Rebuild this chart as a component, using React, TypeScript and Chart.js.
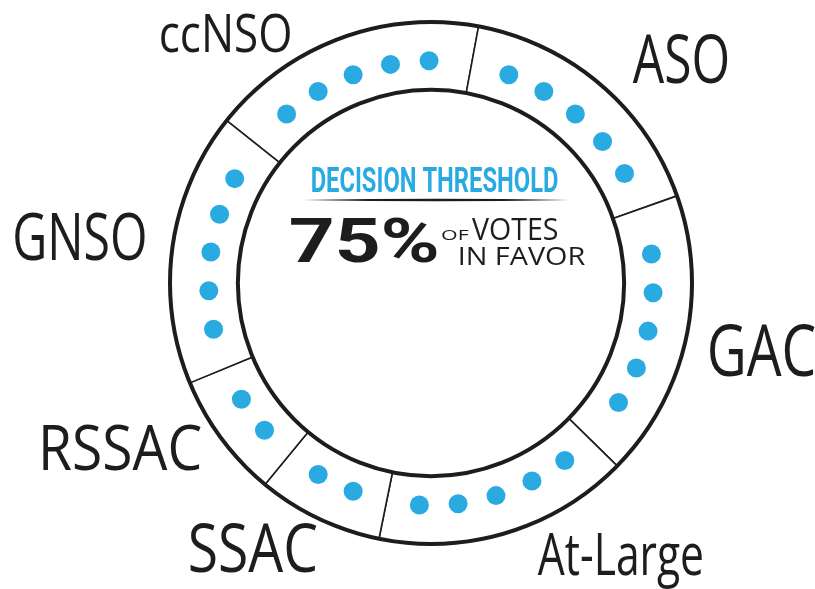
import { useEffect, useRef } from 'react';
import { Chart, DoughnutController, ArcElement } from 'chart.js';

Chart.register(DoughnutController, ArcElement);

// ---- data ----
const categories = ['ccNSO', 'ASO', 'GAC', 'At-Large', 'SSAC', 'RSSAC', 'GNSO'];
const votes = [5, 5, 5, 5, 2, 2, 5];
const segmentShare = [62, 60, 64, 57, 28, 28, 61];
const thresholdTitle = 'DECISION THRESHOLD';
const thresholdValue = '75%';
const thresholdWordsTop = ['OF', 'VOTES'];
const thresholdWordsBottom = 'IN FAVOR';

// ---- layout / style ----
const BLUE = '#29abe2';
const INK = '#1d1d1b';
const ROTATION = -51.5;
// label placement: angle (deg clockwise from top), distance from centre, cap height, ink width
const labelLayout = [
  { deg: -39.4, dist: 324, capH: 39, w: 130 },
  { deg: 47.9, dist: 336, capH: 50, w: 95 },
  { deg: 101.4, dist: 338, capH: 52, w: 105 },
  { deg: 145.1, dist: 330, capH: 43, w: 164 },
  { deg: 213.9, dist: 318, capH: 50, w: 127 },
  { deg: 242.0, dist: 350, capH: 45, w: 157 },
  { deg: 277.6, dist: 354, capH: 48, w: 130 },
];
const DOT_STEP_DEG = 10;
const DOT_R = 9.5;

function drawInk(
  ctx: CanvasRenderingContext2D,
  text: string,
  left: number,
  baseline: number,
  capH: number,
  width: number,
  font: string,
  color: string
) {
  ctx.save();
  ctx.font = font.replace('SIZE', '100px');
  const capRatio = ctx.measureText('H').actualBoundingBoxAscent / 100 || 0.72;
  const size = capH / capRatio;
  ctx.font = font.replace('SIZE', size.toFixed(2) + 'px');
  ctx.textAlign = 'left';
  ctx.textBaseline = 'alphabetic';
  const m = ctx.measureText(text);
  const L = m.actualBoundingBoxLeft;
  const inkW = L + m.actualBoundingBoxRight;
  const sx = width / inkW;
  ctx.translate(left, baseline);
  ctx.scale(sx, 1);
  ctx.fillStyle = color;
  ctx.fillText(text, L, 0);
  ctx.restore();
}

const decorPlugin = {
  id: 'decor',
  afterDatasetsDraw(chart: any) {
    const ctx: CanvasRenderingContext2D = chart.ctx;
    const meta = chart.getDatasetMeta(0);
    const first = meta.data[0];
    if (!first) return;
    const { x: cx, y: cy, innerRadius, outerRadius } = first.getProps(
      ['x', 'y', 'innerRadius', 'outerRadius'],
      true
    );

    // thick outer and inner rings
    ctx.save();
    ctx.strokeStyle = INK;
    ctx.lineWidth = 4;
    ctx.beginPath();
    ctx.arc(cx, cy, outerRadius, 0, Math.PI * 2);
    ctx.stroke();
    ctx.lineWidth = 4;
    ctx.beginPath();
    ctx.arc(cx, cy, innerRadius, 0, Math.PI * 2);
    ctx.stroke();
    ctx.restore();

    // vote dots
    const step = (DOT_STEP_DEG * Math.PI) / 180;
    const dotRadius = innerRadius + 0.43 * (outerRadius - innerRadius);
    ctx.save();
    ctx.fillStyle = BLUE;
    meta.data.forEach((arc: any, i: number) => {
      const { startAngle, endAngle } = arc.getProps(['startAngle', 'endAngle'], true);
      const mid = (startAngle + endAngle) / 2;
      const n = votes[i];
      for (let j = 0; j < n; j++) {
        const a = mid + (j - (n - 1) / 2) * step;
        ctx.beginPath();
        ctx.arc(cx + dotRadius * Math.cos(a), cy + dotRadius * Math.sin(a), DOT_R, 0, Math.PI * 2);
        ctx.fill();
      }
    });
    ctx.restore();

    // outer category labels
    const labelFont = '400 SIZE "Open Sans", sans-serif';
    categories.forEach((name, i) => {
      const lay = labelLayout[i];
      const a = ((lay.deg - 90) * Math.PI) / 180;
      const lx = cx + lay.dist * Math.cos(a);
      const ly = cy + lay.dist * Math.sin(a);
      drawInk(ctx, name, lx - lay.w / 2, ly + lay.capH / 2, lay.capH, lay.w, labelFont, INK);
    });

    // centre text
    drawInk(ctx, thresholdTitle, cx - 119, cy - 91, 25, 246, '700 SIZE Roboto, sans-serif', BLUE);
    ctx.save();
    ctx.fillStyle = INK;
    ctx.beginPath();
    ctx.moveTo(cx - 128, cy - 83);
    ctx.quadraticCurveTo(cx + 5, cy - 85.5, cx + 139, cy - 83);
    ctx.quadraticCurveTo(cx + 5, cy - 80.5, cx - 128, cy - 83);
    ctx.fill();
    ctx.restore();
    drawInk(ctx, thresholdValue, cx - 141, cy - 21, 44, 147, '700 SIZE Roboto, sans-serif', INK);
    drawInk(ctx, thresholdWordsTop[0], cx + 10, cy - 43, 11, 28, '400 SIZE "Open Sans", sans-serif', INK);
    drawInk(ctx, thresholdWordsTop[1], cx + 41, cy - 43, 22, 86, '400 SIZE "Open Sans", sans-serif', INK);
    drawInk(ctx, thresholdWordsBottom, cx + 29, cy - 18, 18, 125, '400 SIZE "Open Sans", sans-serif', INK);
  },
};

export default function App() {
  const ref = useRef<HTMLCanvasElement | null>(null);
  useEffect(() => {
    if (!ref.current) return;
    const chart = new Chart(ref.current, {
      type: 'doughnut',
      data: {
        labels: categories,
        datasets: [
          {
            data: segmentShare,
            backgroundColor: '#ffffff',
            borderColor: INK,
            borderWidth: 1.6,
            hoverOffset: 0,
          },
        ],
      },
      options: {
        animation: false,
        responsive: false,
        events: [],
        rotation: ROTATION,
        radius: 261,
        cutout: '74%',
        layout: { padding: { left: 47, right: 0, top: 0, bottom: 23 } },
        plugins: { legend: { display: false }, tooltip: { enabled: false } },
      } as any,
      plugins: [decorPlugin],
    });
    return () => chart.destroy();
  }, []);
  return (
    <div style={{ position: 'fixed', left: 0, top: 0, width: 815, height: 589, background: '#fff' }}>
      <canvas ref={ref} width={815} height={589} style={{ width: 815, height: 589, display: 'block' }} />
    </div>
  );
}
